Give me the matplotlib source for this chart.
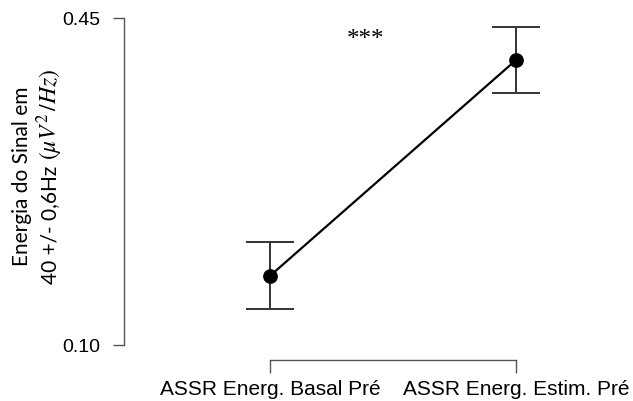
import matplotlib
matplotlib.use("Agg")
import matplotlib.pyplot as plt

categories = ["ASSR Energ. Basal Pré", "ASSR Energ. Estim. Pré"]
means = [0.174, 0.405]
errors = [0.036, 0.035]
yticks = [0.10, 0.45]
ytick_labels = ["0.10", "0.45"]
signif = "***"
ylabel_line1 = "Energia do Sinal em"
ylabel_line2_text = "40 +/- 0,6Hz"
ylabel_line2_math = r"$(\mu V^2\,/Hz)$"

plt.rcParams['mathtext.fontset'] = 'stix'

W, H = 633, 401
fig = plt.figure(figsize=(W / 100, H / 100), dpi=100)

# pixel geometry
left_px, right_px, top_px, bottom_px = 124, 633, 5, 360
ax = fig.add_axes([left_px / W, 1 - bottom_px / H, (right_px - left_px) / W, (bottom_px - top_px) / H])

x = [1, 2]
pxu = 246.0
ax.set_xlim(1 - (270 - left_px) / pxu, 2 + (right_px - 516) / pxu)
ypu = 327 / 0.35
ax.set_ylim(0.10 - (bottom_px - 345) / ypu, 0.45 + (18 - top_px) / ypu)

ax.errorbar(x, means, yerr=errors, fmt='none', ecolor='#333333', elinewidth=1.4,
            capsize=17, capthick=1.4, zorder=2)
ax.plot(x, means, color='black', linewidth=1.6, zorder=3)
ax.plot(x, means, 'o', color='black', markersize=9.6, zorder=4)

for s in ['top', 'right']:
    ax.spines[s].set_visible(False)
for s in ['left', 'bottom']:
    ax.spines[s].set_color('#555555')
    ax.spines[s].set_linewidth(1.0)
ax.spines['left'].set_bounds(0.10, 0.45)
ax.spines['bottom'].set_bounds(1, 2)

ax.set_yticks(yticks)
ax.set_yticklabels(ytick_labels, family='Liberation Sans', fontsize=14)
ax.set_xticks(x)
ax.set_xticklabels(categories, family='Liberation Sans', fontsize=15)
ax.tick_params(axis='y', length=8, width=1.0, color='#555555', pad=9)
ax.tick_params(axis='x', length=9.5, width=1.0, color='#555555', pad=5)

ax.text(1.39, 0.426, signif, family='Liberation Serif', fontsize=18,
        ha='center', va='center')

# y label: two rotated lines
fig.text(22 / W, 1 - 176 / H, ylabel_line1, rotation=90, ha='center', va='center',
         family='Lato', fontsize=15)
t1 = fig.text(50 / W, 0, ylabel_line2_text, rotation=90, ha='center', va='bottom',
              family='Lato', fontsize=15)
t2 = fig.text(50 / W, 0, ylabel_line2_math, rotation=90, ha='center', va='bottom',
              fontsize=17)
fig.canvas.draw()
r = fig.canvas.get_renderer()
h1 = t1.get_window_extent(r).height
h2 = t2.get_window_extent(r).height
gap = 5
total = h1 + gap + h2
y0 = (H - 176.5 - total / 2)
t1.set_y(y0 / H)
t2.set_y((y0 + h1 + gap) / H)

fig.savefig("out.png", dpi=100)
